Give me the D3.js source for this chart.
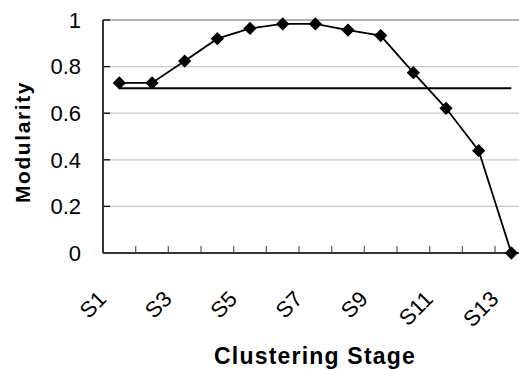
<!DOCTYPE html>
<html>
<head>
<meta charset="utf-8">
<script src="https://cdn.jsdelivr.net/npm/d3@7"></script>
<style>
  body { margin: 0; background: #fff; }
  text { font-family: "Liberation Sans", Arial, sans-serif; fill: #000; }
</style>
</head>
<body>
<div id="chart-area"></div>
<script>
var stages = ["S1","S2","S3","S4","S5","S6","S7","S8","S9","S10","S11","S12","S13"];
var modularity = [0.73, 0.73, 0.824, 0.92, 0.964, 0.983, 0.983, 0.957, 0.933, 0.774, 0.621, 0.439, 0];
var reference = [0.707, 0.707, 0.707, 0.707, 0.707, 0.707, 0.707, 0.707, 0.707, 0.707, 0.707, 0.707, 0.707];
var yTicks = [0, 0.2, 0.4, 0.6, 0.8, 1];

var svg = d3.select("#chart-area").append("svg")
    .attr("width", 519)
    .attr("height", 369);

var plotLeft = 103, plotTop = 20, plotBottom = 253;
var x = d3.scaleBand().domain(stages).range([plotLeft, plotLeft + 13 * 32.67]).padding(0);
var y = d3.scaleLinear().domain([0, 1]).range([plotBottom, plotTop]);
var cx = (d) => x(d) + x.bandwidth() / 2;

// gridlines
svg.selectAll(".grid").data(yTicks.filter((t)=> t > 0)).enter().append("line")
    .attr("x1", plotLeft).attr("x2", 519)
    .attr("y1", (d)=> y(d)).attr("y2", (d)=> y(d))
    .attr("stroke", (d)=> d == 1 ? "#999" : "#c8c8c8")
    .attr("stroke-width", 1.3);

// y tick marks (inside)
svg.selectAll(".ytick").data(yTicks).enter().append("line")
    .attr("x1", plotLeft).attr("x2", plotLeft + 7)
    .attr("y1", (d)=> y(d)).attr("y2", (d)=> y(d))
    .attr("stroke", "#000").attr("stroke-width", 1.3);

// y tick labels
svg.selectAll(".ylab").data(yTicks).enter().append("text")
    .attr("x", 81).attr("y", (d)=> y(d))
    .attr("dy", "0.35em")
    .attr("text-anchor", "end")
    .style("font-size", "22px")
    .text((d)=> d3.format("")(d));

// x tick marks at category boundaries
svg.selectAll(".xtick").data(stages.slice(1)).enter().append("line")
    .attr("x1", (d)=> x(d)).attr("x2", (d)=> x(d))
    .attr("y1", plotBottom).attr("y2", plotBottom - 7)
    .attr("stroke", "#666").attr("stroke-width", 1.3);

// axes lines
svg.append("line").attr("x1", plotLeft).attr("x2", plotLeft).attr("y1", plotTop).attr("y2", plotBottom)
    .attr("stroke", "#333").attr("stroke-width", 2);
svg.append("line").attr("x1", plotLeft).attr("x2", 519).attr("y1", plotBottom).attr("y2", plotBottom)
    .attr("stroke", "#333").attr("stroke-width", 2);

// x labels (odd stages)
svg.selectAll(".xlab").data(stages.filter((d, i)=> i % 2 == 0)).enter().append("text")
    .attr("transform", (d)=> "translate(" + (cx(d) - 17) + ",295) rotate(-45)")
    .attr("dy", "0.35em")
    .attr("text-anchor", "end")
    .style("font-size", "22px")
    .text((d)=> d);

// reference line
var line = d3.line().x((d, i)=> cx(stages[i])).y((d)=> y(d));
svg.append("path").datum(reference)
    .attr("d", line)
    .attr("fill", "none").attr("stroke", "#000").attr("stroke-width", 1.8);

// modularity series
svg.append("path").datum(modularity)
    .attr("d", line)
    .attr("fill", "none").attr("stroke", "#000").attr("stroke-width", 1.8);

svg.selectAll(".marker").data(modularity).enter().append("path")
    .attr("d", d3.symbol().type(d3.symbolSquare).size(88))
    .attr("transform", (d, i)=> "translate(" + cx(stages[i]) + "," + y(d) + ") rotate(45)")
    .attr("fill", "#000");

// titles
svg.append("text")
    .attr("x", 315).attr("y", 364)
    .attr("text-anchor", "middle")
    .style("font-size", "23px").style("font-weight", "bold").style("letter-spacing", "1.2px")
    .text("Clustering Stage");

svg.append("text")
    .attr("transform", "translate(30,142) rotate(-90)")
    .attr("text-anchor", "middle")
    .style("font-size", "21px").style("font-weight", "bold").style("letter-spacing", "1.6px")
    .text("Modularity");
</script>
</body>
</html>
